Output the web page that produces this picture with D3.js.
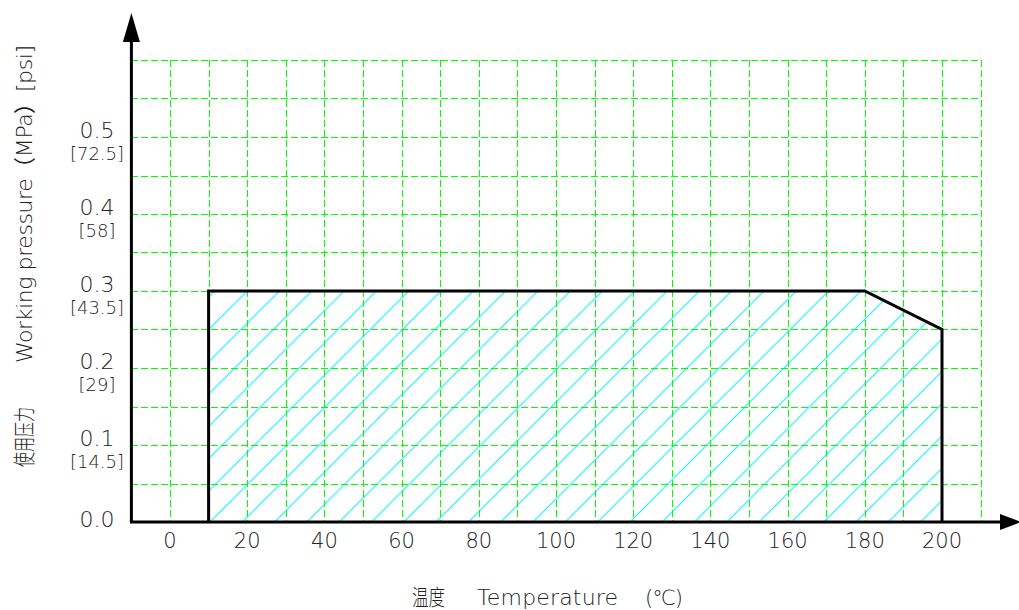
<!DOCTYPE html>
<html lang="zh-CN">
<head>
    <meta charset="utf-8">
    <title>使用压力 - 温度</title>
    <style>
        body { margin: 0; background: #fff; }
        svg text { font-family: 'DejaVu Sans', sans-serif; font-weight: 200; fill: #222; }
        .cjk { font-family: 'Noto Sans CJK SC', sans-serif; font-weight: 300; }
    </style>
    <script src="https://d3js.org/d3.v7.min.js" charset="utf-8"></script>
</head>
<body>
<svg id="chart" width="1019" height="610"></svg>

<script type="text/javascript">
    // x axis ticks (temperature, ℃)
    var tempTicks = [0, 20, 40, 60, 80, 100, 120, 140, 160, 180, 200];
    // y axis ticks (MPa) and psi equivalents
    var pressTicks = [0.0, 0.1, 0.2, 0.3, 0.4, 0.5];
    var pressLabels = ["0.0", "0.1", "0.2", "0.3", "0.4", "0.5"];
    var psiLabels = ["", "[14.5]", "[29]", "[43.5]", "[58]", "[72.5]"];

    // usable range outline
    var limitTemp = [10, 10, 180, 200, 200];
    var limitPress = [0, 0.3, 0.3, 0.25, 0];

    var svg = d3.select("#chart");

    var x = d3.scaleLinear().domain([-10, 210]).range([131.4, 980.6]);
    var y = d3.scaleLinear().domain([0, 0.6]).range([522, 60]);

    // hatch pattern
    var hw = 32.3;
    var defs = svg.append("defs");
    defs.append("pattern")
        .attr("id", "hatch")
        .attr("patternUnits", "userSpaceOnUse")
        .attr("x", 21.4)
        .attr("y", 0)
        .attr("width", hw)
        .attr("height", hw)
      .append("path")
        .attr("d", "M0," + hw + " L" + hw + ",0 M-1,1 L1,-1 M" + (hw - 1) + "," + (hw + 1) + " L" + (hw + 1) + "," + (hw - 1))
        .attr("stroke", "#00ecfb")
        .attr("stroke-width", 1)
        .attr("fill", "none");

    var pts = limitTemp.map(function (t, i) { return [x(t), y(limitPress[i])]; });
    var line = d3.line();

    svg.append("path")
        .attr("d", line(pts) + "Z")
        .attr("fill", "url(#hatch)")
        .attr("stroke", "none");

    // grid
    var grid = svg.append("g")
        .attr("stroke", "#00ff00")
        .attr("stroke-width", 1)
        .attr("stroke-dasharray", "7,3")
        .attr("shape-rendering", "crispEdges");

    grid.selectAll(".gy")
        .data(y.ticks(12).filter(function (d) { return d > 0; }))
        .enter().append("line")
        .attr("x1", x(-10)).attr("x2", x(210))
        .attr("y1", function (d) { return Math.round(y(d)) + 0.5; })
        .attr("y2", function (d) { return Math.round(y(d)) + 0.5; });

    grid.selectAll(".gx")
        .data(x.ticks(22).filter(function (d) { return d >= 0; }))
        .enter().append("line")
        .attr("y1", y(0.6)).attr("y2", y(0))
        .attr("x1", function (d) { return Math.round(x(d)) + 0.5; })
        .attr("x2", function (d) { return Math.round(x(d)) + 0.5; });

    // outline
    svg.append("path")
        .attr("d", line(pts))
        .attr("fill", "none")
        .attr("stroke", "#000")
        .attr("stroke-width", 3)
        .attr("stroke-linejoin", "miter");

    // axes with arrows
    var x0 = x(-10), y0 = y(0);
    svg.append("line")
        .attr("x1", x0).attr("y1", y0)
        .attr("x2", x0).attr("y2", 40)
        .attr("stroke", "#000").attr("stroke-width", 3);
    svg.append("line")
        .attr("x1", x0 - 1.5).attr("y1", y0)
        .attr("x2", 1002).attr("y2", y0)
        .attr("stroke", "#000").attr("stroke-width", 3);
    svg.append("path")
        .attr("d", "M" + x0 + ",13 L" + (x0 - 8.5) + ",42 L" + (x0 + 8.5) + ",42 Z")
        .attr("fill", "#000");
    svg.append("path")
        .attr("d", "M1021," + y0 + " L1000," + (y0 - 8) + " L1000," + (y0 + 8) + " Z")
        .attr("fill", "#000");

    // y tick labels
    var yl = svg.append("g").attr("text-anchor", "middle");
    yl.selectAll(".mpa")
        .data(pressTicks)
        .enter().append("text")
        .attr("x", 97)
        .attr("y", function (d, i) { return y(d) + (psiLabels[i] ? -7 : -3); })
        .attr("dominant-baseline", "central")
        .attr("font-size", 22)
        .text(function (d, i) { return pressLabels[i]; });
    yl.selectAll(".psi")
        .data(pressTicks)
        .enter().append("text")
        .attr("x", 97)
        .attr("y", function (d) { return y(d) + 16; })
        .attr("dominant-baseline", "central")
        .attr("font-size", 18)
        .text(function (d, i) { return psiLabels[i]; });

    // x tick labels
    svg.append("g").attr("text-anchor", "middle")
        .selectAll("text")
        .data(tempTicks)
        .enter().append("text")
        .attr("x", function (d) { return x(d); })
        .attr("y", 541)
        .attr("dominant-baseline", "central")
        .attr("font-size", 21)
        .text(function (d) { return d; });

    // x title
    svg.append("text").attr("class", "cjk")
        .attr("x", 412).attr("y", 605).attr("font-size", 22)
        .attr("textLength", 33).attr("lengthAdjust", "spacingAndGlyphs")
        .text("温度");
    svg.append("text")
        .attr("x", 477).attr("y", 605).attr("font-size", 22)
        .attr("textLength", 141).attr("lengthAdjust", "spacing")
        .text("Temperature");
    svg.append("text")
        .attr("x", 645).attr("y", 605).attr("font-size", 21)
        .attr("textLength", 38).attr("lengthAdjust", "spacing")
        .text("(℃)");

    // y title
    svg.append("text").attr("class", "cjk")
        .attr("transform", "translate(32,467) rotate(-90)")
        .attr("font-size", 22)
        .attr("textLength", 60).attr("lengthAdjust", "spacingAndGlyphs")
        .text("使用压力");
    svg.append("text")
        .attr("transform", "translate(32,363) rotate(-90)")
        .attr("font-size", 22)
        .attr("textLength", 318).attr("lengthAdjust", "spacing")
        .text("Working pressure（MPa）[psi]");
</script>
</body>
</html>
